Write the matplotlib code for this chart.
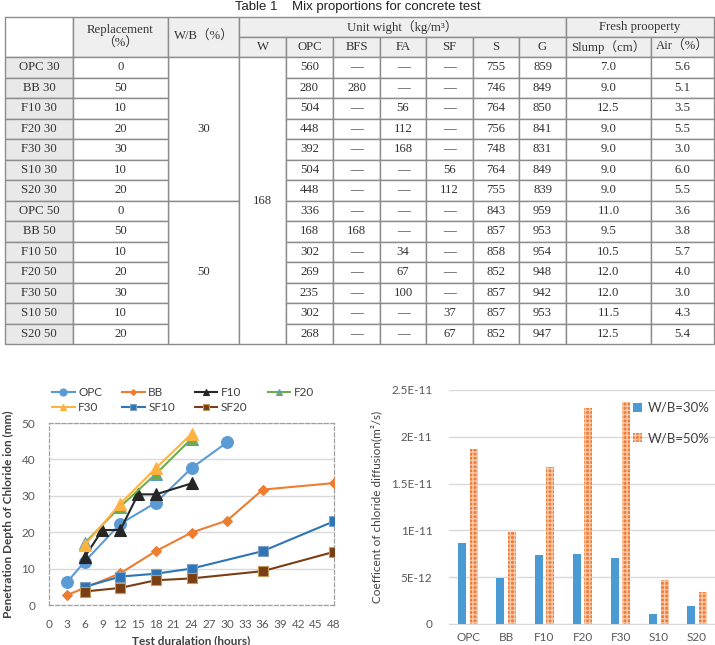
import numpy as np
import matplotlib
matplotlib.use("Agg")
import matplotlib.pyplot as plt
from matplotlib.patches import Rectangle

plt.rcParams['font.family'] = ['Lato', 'DejaVu Sans']

# ---- table data ----
mix_names = ['OPC 30', 'BB 30', 'F10 30', 'F20 30', 'F30 30', 'S10 30', 'S20 30',
             'OPC 50', 'BB 50', 'F10 50', 'F20 50', 'F30 50', 'S10 50', 'S20 50']
replacement = [0, 50, 10, 20, 30, 10, 20, 0, 50, 10, 20, 30, 10, 20]
wb_groups = ['30', '50']
water = '168'
opc = [560, 280, 504, 448, 392, 504, 448, 336, 168, 302, 269, 235, 302, 268]
bfs = [None, 280, None, None, None, None, None, None, 168, None, None, None, None, None]
fa = [None, None, 56, 112, 168, None, None, None, None, 34, 67, 100, None, None]
sf = [None, None, None, None, None, 56, 112, None, None, None, None, None, 37, 67]
sand = [755, 746, 764, 756, 748, 764, 755, 843, 857, 858, 852, 857, 857, 852]
gravel = [859, 849, 850, 841, 831, 849, 839, 959, 953, 954, 948, 942, 953, 947]
slump = [7.0, 9.0, 12.5, 9.0, 9.0, 9.0, 9.0, 11.0, 9.5, 10.5, 12.0, 12.0, 11.5, 12.5]
air = [5.6, 5.1, 3.5, 5.5, 3.0, 6.0, 5.5, 3.6, 3.8, 5.7, 4.0, 3.0, 4.3, 5.4]
sub_headers = ['W', 'OPC', 'BFS', 'FA', 'SF', 'S', 'G', 'Slump（cm）', 'Air（%）']

# ---- penetration depth data ----
series = {
    'OPC':  ([3, 6, 12, 18, 24, 30], [6.2, 11.9, 22.3, 28.1, 37.6, 44.7]),
    'BB':   ([3, 12, 18, 24, 30, 36, 48], [2.7, 8.7, 14.8, 19.9, 23.2, 31.7, 33.5]),
    'F10':  ([6, 9, 12, 15, 18, 24], [13.2, 20.6, 20.6, 30.4, 30.4, 33.4]),
    'F20':  ([6, 12, 18, 24], [17.0, 27.0, 36.0, 45.7]),
    'F30':  ([6, 12, 18, 24], [16.4, 27.8, 37.6, 47.0]),
    'SF10': ([6, 12, 18, 24, 36, 48], [5.0, 7.8, 8.6, 10.0, 14.8, 23.0]),
    'SF20': ([6, 12, 18, 24, 36, 48], [3.7, 4.7, 6.8, 7.3, 9.3, 14.6]),
}
styles = {
    'OPC':  dict(color='#5B9BD5', marker='o', ms=8.5, mec='#5B9BD5'),
    'BB':   dict(color='#ED7D31', marker='D', ms=5, mec='#ED7D31'),
    'F10':  dict(color='#262626', marker='^', ms=8, mec='#262626'),
    'F20':  dict(color='#70AD47', marker='^', ms=8, mec='#5B9BD5'),
    'F30':  dict(color='#FFB23F', marker='^', ms=8, mec='#FFB23F'),
    'SF10': dict(color='#2E75B6', marker='s', ms=7.5, mec='#7F9FC0'),
    'SF20': dict(color='#7A3E14', marker='s', ms=7.5, mec='#C49A5C'),
}
legend_order = ['OPC', 'F30', 'BB', 'SF10', 'F10', 'SF20', 'F20']

# ---- diffusion coefficient data ----
bar_cats = ['OPC', 'BB', 'F10', 'F20', 'F30', 'S10', 'S20']
diff_30 = [8.7e-12, 4.9e-12, 7.4e-12, 7.5e-12, 7.0e-12, 1.1e-12, 1.9e-12]
diff_50 = [18.7e-12, 9.8e-12, 16.8e-12, 23.1e-12, 23.7e-12, 4.7e-12, 3.4e-12]
ytick_vals = [0, 5e-12, 1e-11, 1.5e-11, 2e-11, 2.5e-11]
ytick_text = ['0', '5E-12', '1E-11', '1.5E-11', '2E-11', '2.5E-11']

W, H = 715, 645
fig = plt.figure(figsize=(W / 100, H / 100), dpi=100)

# ================= table =================
tab = fig.add_axes([0, 0, 1, 1])
tab.set_xlim(0, W)
tab.set_ylim(H, 0)
tab.axis('off')

col_x = [5, 73, 168, 239, 286, 333, 380, 426, 473, 519, 566, 651, 714]
head_y = [17, 37, 57]
row_h = 20.5
row_y = [57 + i * row_h for i in range(len(mix_names) + 1)]
serif = ['Liberation Serif', 'Noto Sans CJK JP']
tcol = '#333333'
lcol = '#8c8c8c'
fs = 9.2


def cell(x0, x1, y0, y1, text='', face='white'):
    tab.add_patch(Rectangle((x0, y0), x1 - x0, y1 - y0, facecolor=face,
                            edgecolor=lcol, lw=1.0))
    if text != '':
        tab.text((x0 + x1) / 2, (y0 + y1) / 2, text, ha='center', va='center',
                 family=serif, fontsize=fs, color=tcol, linespacing=1.1)


hgray = '#efefef'
cell(col_x[0], col_x[1], head_y[0], head_y[2], '')
cell(col_x[1], col_x[2], head_y[0], head_y[2], 'Replacement\n（%）', hgray)
cell(col_x[2], col_x[3], head_y[0], head_y[2], 'W/B（%）', hgray)
cell(col_x[3], col_x[10], head_y[0], head_y[1], 'Unit wight（kg/m³）', hgray)
cell(col_x[10], col_x[12], head_y[0], head_y[1], 'Fresh prooperty', hgray)
for j, h in enumerate(sub_headers):
    cell(col_x[3 + j], col_x[4 + j], head_y[1], head_y[2], h, hgray)

n = len(mix_names)
half = n // 2
for g, lab in enumerate(wb_groups):
    cell(col_x[2], col_x[3], row_y[g * half], row_y[(g + 1) * half], lab)
cell(col_x[3], col_x[4], row_y[0], row_y[n], water)


def fmt(v):
    return '—' if v is None else str(v)


for i in range(n):
    y0, y1 = row_y[i], row_y[i + 1]
    cell(col_x[0], col_x[1], y0, y1, mix_names[i], '#e9e9e9')
    cell(col_x[1], col_x[2], y0, y1, str(replacement[i]))
    vals = [opc[i], bfs[i], fa[i], sf[i], sand[i], gravel[i]]
    for j, v in enumerate(vals):
        cell(col_x[4 + j], col_x[5 + j], y0, y1, fmt(v))
    cell(col_x[10], col_x[11], y0, y1, '%.1f' % slump[i])
    cell(col_x[11], col_x[12], y0, y1, '%.1f' % air[i])

tab.text(W / 2, 7, 'Table 1    Mix proportions for concrete test', ha='center',
         va='center', family=['Liberation Sans', 'DejaVu Sans'], fontsize=9.5,
         color='#222222')

# ================= line chart =================
ax = fig.add_axes([49 / W, 1 - 605 / H, (334 - 49) / W, (605 - 423) / H])
lines = {}
for name, (x, y) in series.items():
    st = styles[name]
    lines[name], = ax.plot(x, y, color=st['color'], lw=1.5, marker=st['marker'],
                           ms=st['ms'], mfc=st['color'], mec=st['mec'], mew=0.8,
                           label=name, zorder=3)
ax.set_xlim(0, 48)
ax.set_ylim(0, 50)
ax.set_xticks(np.arange(0, 49, 3))
ax.set_yticks(np.arange(0, 51, 10))
ax.grid(axis='y', color='#d9d9d9', lw=1)
ax.tick_params(length=0, labelsize=8.5, colors='#595959')
ax.tick_params(axis='x', pad=10)
ax.tick_params(axis='y', pad=10)
for sp in ax.spines.values():
    sp.set_linestyle((0, (3, 2)))
    sp.set_color('#a0a0a0')
    sp.set_linewidth(0.9)
ax.set_xlabel('Test duralation (hours)', fontsize=8.5, fontweight='bold',
              color='#404040', labelpad=4)
ax.set_ylabel('Penetration Depth of Chloride ion (mm)', fontsize=8.5,
              fontweight='bold', color='#404040', labelpad=5)
ax.legend([lines[k] for k in legend_order], legend_order, loc='center',
          bbox_to_anchor=(183 / W, 1 - 400 / H), bbox_transform=fig.transFigure,
          ncol=4, frameon=False, fontsize=8.5, markerscale=0.6, handlelength=1.9,
          columnspacing=1.7, handletextpad=0.3, labelspacing=0.4,
          labelcolor='#404040')

# ================= bar chart =================
bx = fig.add_axes([449 / W, 1 - 624 / H, (716 - 449) / W, (624 - 390) / H])
pos = np.arange(len(bar_cats))
bw = 0.21
bx.bar(pos - 0.15, diff_30, bw, color='#4A9BD4', label='W/B=30%', zorder=3)
bx.bar(pos + 0.15, diff_50, bw, color='#F07C3A', edgecolor='#F9C9A8',
       hatch='++++', lw=0, label='W/B=50%', zorder=3)
bx.set_xlim(-0.5, len(bar_cats) - 0.5)
bx.set_ylim(0, 2.5e-11)
bx.set_yticks(ytick_vals)
bx.set_yticklabels(ytick_text)
bx.set_xticks(pos)
bx.set_xticklabels(bar_cats)
bx.grid(axis='y', color='#d9d9d9', lw=1)
bx.set_axisbelow(True)
bx.tick_params(length=0, labelsize=8.5, colors='#595959')
bx.tick_params(axis='x', pad=6)
bx.tick_params(axis='y', pad=12)
for s in ['top', 'right', 'left']:
    bx.spines[s].set_visible(False)
bx.spines['bottom'].set_color('#d9d9d9')
bx.set_ylabel('Coefficent of chloride diffusion(m²/s)', fontsize=8.5,
              color='#404040', labelpad=6)
bx.legend(loc='upper right', bbox_to_anchor=(1.02, 1.0), frameon=False,
          fontsize=9.5, handlelength=0.7, handleheight=0.7, handletextpad=0.4,
          labelspacing=1.4, labelcolor='#404040')

fig.savefig('out.png', dpi=100)
